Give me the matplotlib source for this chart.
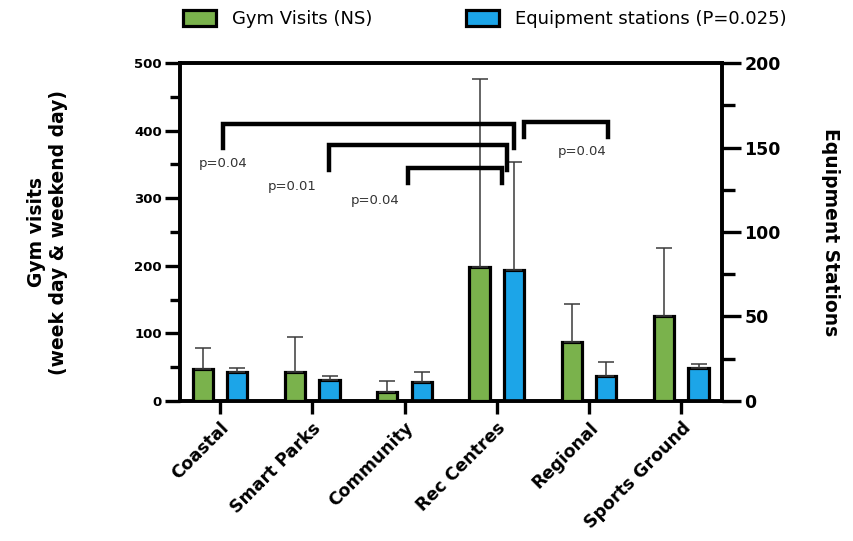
import matplotlib
matplotlib.use("Agg")
import matplotlib.pyplot as plt
import numpy as np

plt.rcParams['font.family'] = ['DejaVu Sans']

categories = ["Coastal", "Smart Parks", "Community", "Rec Centres", "Regional", "Sports Ground"]
gym_visits = [47, 43, 14, 198, 88, 125]
gym_err = [31, 52, 16, 278, 55, 102]
stations = [17, 12.5, 11, 77.5, 15, 19.5]
stations_err = [2.3, 2.5, 6, 64, 8, 2.5]

# brackets: (x left, x right, top, leg bottom left, leg bottom right), in left-axis units
brackets = [
    (0.03, 3.19, 410, 374, 374),
    (1.18, 3.11, 379, 341, 341),
    (2.04, 3.06, 344, 322, 322),
    (3.30, 4.21, 413, 390, 390),
]
p_labels = ["p=0.04", "p=0.01", "p=0.04", "p=0.04"]
p_pos = [(0.03, 352), (0.78, 317), (1.68, 296), (3.92, 369)]

green = "#7AB24C"
blue = "#1CA5E8"

fig = plt.figure(figsize=(8.54, 5.41), dpi=100)
ax = fig.add_axes([0.2108, 0.2588, 0.6346, 0.6247])
ax2 = ax.twinx()

x = np.arange(len(categories))
off = 0.187
w = 0.22

ax.bar(x - off, gym_visits, w, color=green, edgecolor="black", linewidth=2.3,
       yerr=[np.zeros(len(x)), gym_err], error_kw=dict(ecolor="#3a3a3a", elinewidth=1.1, capsize=6, capthick=1.1),
       zorder=3, label="Gym Visits (NS)")
ax2.bar(x + off, stations, w, color=blue, edgecolor="black", linewidth=2.3,
        yerr=[np.zeros(len(x)), stations_err], error_kw=dict(ecolor="#3a3a3a", elinewidth=1.1, capsize=6, capthick=1.1),
        zorder=3, label="Equipment stations (P=0.025)")

ax.set_xlim(-0.433, 5.44)
ax.set_ylim(0, 500)
ax2.set_ylim(0, 200)

# bring left axis (with brackets) above
ax.set_zorder(ax2.get_zorder() + 1)
ax.patch.set_visible(False)

for (xl, xr, top, bl, br) in brackets:
    ax.plot([xl, xl, xr, xr], [bl, top, top, br], color="black", lw=3.2,
            solid_joinstyle="miter", zorder=5, clip_on=False)
for lab, (px, py) in zip(p_labels, p_pos):
    ax.text(px, py, lab, ha="center", va="center", fontsize=9.5, color="#333333")

for a in (ax, ax2):
    for s in a.spines.values():
        s.set_linewidth(2.6)

ax.set_yticks([0, 100, 200, 300, 400, 500])
ax.set_yticks(np.arange(50, 500, 100), minor=True)
ax.tick_params(axis="y", which="major", length=11, width=2.4, labelsize=9.5, pad=2)
ax.tick_params(axis="y", which="minor", length=7, width=2.4)
for t in ax.get_yticklabels():
    t.set_fontweight("bold")

ax2.set_yticks([0, 50, 100, 150, 200])
ax2.set_yticks(np.arange(25, 200, 50), minor=True)
ax2.tick_params(axis="y", which="major", length=14, width=2.4, labelsize=12.5, pad=2)
ax2.tick_params(axis="y", which="minor", length=9, width=2.4)
for t in ax2.get_yticklabels():
    t.set_fontweight("bold")

ax.set_xticks(x)
ax.set_xticklabels(categories, rotation=45, ha="right", rotation_mode="anchor",
                   fontsize=12.5, fontweight="bold")
ax.tick_params(axis="x", length=9, width=2.4, pad=4)

ax.set_ylabel("Gym visits\n(week day & weekend day)", fontsize=13.5, fontweight="bold", labelpad=48)
ax2.set_ylabel("Equipment Stations", fontsize=13.5, fontweight="bold", rotation=270, labelpad=43)

h1, l1 = ax.get_legend_handles_labels()
h2, l2 = ax2.get_legend_handles_labels()
fig.legend(h1 + h2, l1 + l2, loc="upper center", bbox_to_anchor=(0.568, 1.012), ncol=2,
           frameon=False, fontsize=13, handlelength=1.8, handleheight=1.0, columnspacing=5.2,
           handletextpad=0.9)

fig.savefig("out.png", dpi=100)
